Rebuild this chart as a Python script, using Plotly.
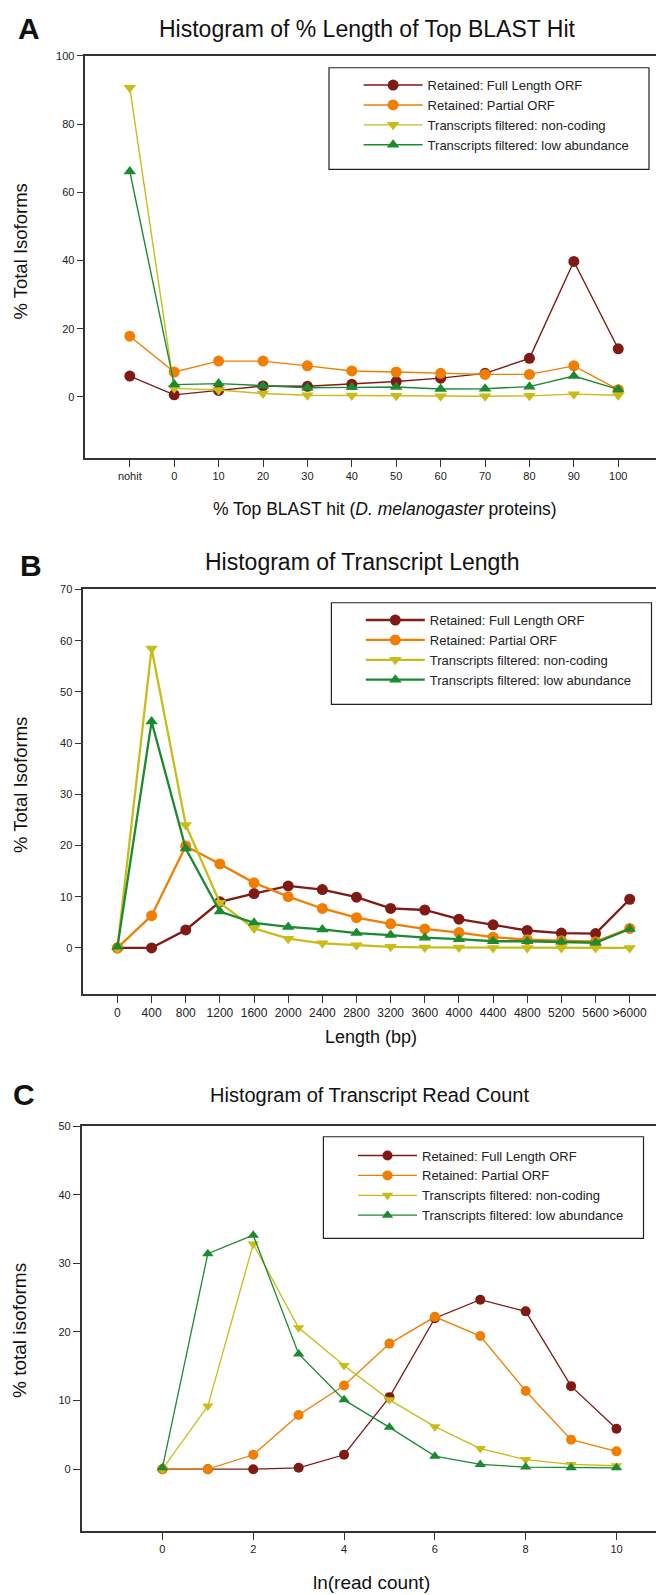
import plotly.graph_objects as go

W, H = 656, 1595

# ---------------- data ----------------
series_names = [
    "Retained: Full Length ORF",
    "Retained: Partial ORF",
    "Transcripts filtered: non-coding",
    "Transcripts filtered: low abundance",
]
series_colors = ["#7f1a14", "#f07e00", "#c8bc17", "#1b8a30"]
series_symbols = ["circle", "circle", "triangle-down", "triangle-up"]

# Panel A: % length of top BLAST hit
blast_categories = ["nohit", "0", "10", "20", "30", "40", "50", "60", "70", "80", "90", "100"]
blast_full = [6.1, 0.6, 1.9, 3.2, 3.1, 3.7, 4.5, 5.5, 6.9, 11.3, 39.7, 14.1]
blast_partial = [17.8, 7.3, 10.5, 10.5, 9.1, 7.6, 7.3, 6.9, 6.6, 6.6, 9.1, 2.1]
blast_noncoding = [90.6, 2.5, 2.0, 1.0, 0.5, 0.4, 0.3, 0.2, 0.2, 0.3, 0.8, 0.5]
blast_lowabund = [66.1, 3.6, 3.9, 3.3, 2.7, 2.8, 2.9, 2.3, 2.4, 3.0, 6.1, 2.2]
blast_yticks = [0, 20, 40, 60, 80, 100]

# Panel B: transcript length
length_categories = ["0", "400", "800", "1200", "1600", "2000", "2400", "2800", "3200",
                     "3600", "4000", "4400", "4800", "5200", "5600", ">6000"]
length_full = [0.0, 0.0, 3.5, 9.0, 10.6, 12.1, 11.4, 9.9, 7.7, 7.4, 5.6, 4.5, 3.4, 2.9, 2.8, 9.5]
length_partial = [0.0, 6.3, 19.9, 16.4, 12.7, 10.0, 7.7, 5.9, 4.7, 3.7, 3.0, 2.1, 1.6, 1.4, 1.2, 3.8]
length_noncoding = [0.0, 58.5, 24.0, 8.8, 3.8, 1.8, 0.9, 0.5, 0.2, 0.1, 0.1, 0.0, 0.0, 0.0, 0.0, 0.0]
length_lowabund = [0.2, 44.2, 19.4, 7.1, 4.9, 4.1, 3.6, 2.9, 2.5, 2.0, 1.7, 1.3, 1.3, 1.2, 1.0, 3.7]
length_yticks = [0, 10, 20, 30, 40, 50, 60, 70]

# Panel C: ln(read count)
readcount_x = [0, 1, 2, 3, 4, 5, 6, 7, 8, 9, 10]
readcount_full = [0.0, 0.0, 0.0, 0.2, 2.1, 10.5, 22.0, 24.7, 23.0, 12.1, 5.9]
readcount_partial = [0.0, 0.0, 2.1, 7.9, 12.2, 18.3, 22.2, 19.4, 11.4, 4.3, 2.6]
readcount_noncoding = [0.0, 9.2, 32.8, 20.6, 15.1, 10.1, 6.2, 3.0, 1.4, 0.7, 0.5]
readcount_lowabund = [0.2, 31.4, 34.1, 16.8, 10.1, 6.1, 1.9, 0.7, 0.3, 0.2, 0.2]
readcount_xticks = [0, 2, 4, 6, 8, 10]
readcount_yticks = [0, 10, 20, 30, 40, 50]

# ---------------- helpers ----------------
def fx(px):
    return px / W


def fy(py):
    return 1 - py / H


FONT = "Liberation Sans, Arial, Helvetica, sans-serif"
AXCOL = "#333333"
TXT = "#222222"

fig = go.Figure()

panels = [
    dict(xa="x", ya="y", leg="legend", x=blast_categories,
         ys=[blast_full, blast_partial, blast_noncoding, blast_lowabund], lw=1.4, ms=11),
    dict(xa="x2", ya="y2", leg="legend2", x=length_categories,
         ys=[length_full, length_partial, length_noncoding, length_lowabund], lw=2.3, ms=11),
    dict(xa="x3", ya="y3", leg="legend3", x=readcount_x,
         ys=[readcount_full, readcount_partial, readcount_noncoding, readcount_lowabund], lw=1.3, ms=10),
]

for p in panels:
    for name, col, sym, yv in zip(series_names, series_colors, series_symbols, p["ys"]):
        fig.add_trace(go.Scatter(
            x=p["x"], y=yv, name=name, mode="lines+markers",
            line=dict(color=col, width=p["lw"]),
            marker=dict(symbol=sym, size=p["ms"], color=col, line=dict(width=0)),
            xaxis=p["xa"], yaxis=p["ya"], legend=p["leg"],
        ))


def xaxis_common(domain, rng, tickfont):
    return dict(domain=domain, range=rng, showline=True, linecolor=AXCOL, linewidth=1.5,
                mirror=True, ticks="outside", ticklen=7, tickwidth=1.2, tickcolor=AXCOL,
                showgrid=False, zeroline=False,
                tickfont=dict(family=FONT, size=tickfont, color=TXT))


def yaxis_common(domain, rng, tickvals, tickfont):
    return dict(domain=domain, range=rng, showline=True, linecolor=AXCOL, linewidth=1.5,
                ticks="outside", ticklen=7, tickwidth=1.2, tickcolor=AXCOL,
                tickvals=tickvals, showgrid=False, zeroline=False,
                tickfont=dict(family=FONT, size=tickfont, color=TXT))


xa1 = xaxis_common([fx(85.4), 1.0], [-1, 11.85], 11)
xa1.update(type="category", categoryorder="array", categoryarray=blast_categories, anchor="y")
ya1 = yaxis_common([fy(454), fy(50)], [-18, 100], blast_yticks, 11)
ya1.update(anchor="x")

xa2 = xaxis_common([fx(83.3), 1.0], [-1, 15.77], 12)
xa2.update(type="category", categoryorder="array", categoryarray=length_categories, anchor="y2")
ya2 = yaxis_common([fy(991.7), fy(585.7)], [-9, 70], length_yticks, 11)
ya2.update(anchor="x2")

xa3 = xaxis_common([fx(81.6), 1.0], [-1.78, 10.87], 11)
xa3.update(tickvals=readcount_xticks, anchor="y3")
ya3 = yaxis_common([fy(1530.7), fy(1124.3)], [-9, 50], readcount_yticks, 11)
ya3.update(anchor="x3")


def legend_cfg(marker_px, center_py):
    return dict(x=fx(marker_px - 20), xanchor="left", y=fy(center_py), yanchor="middle",
                bgcolor="rgba(0,0,0,0)", borderwidth=0, itemwidth=59,
                font=dict(family=FONT, size=13, color=TXT), tracegroupgap=0)


annotations = []


def ann(text, px, py, size, bold=False, angle=0):
    annotations.append(dict(
        text=("<b>%s</b>" % text) if bold else text, x=fx(px), y=fy(py),
        xref="paper", yref="paper", xanchor="center", yanchor="middle",
        showarrow=False, textangle=angle,
        font=dict(family=FONT, size=size, color="#111111")))


# panel letters
ann("A", 29, 23, 30, bold=True)
ann("B", 31, 562, 30, bold=True)
ann("C", 24, 1093, 30, bold=True)
# titles
ann("Histogram of % Length of Top BLAST Hit", 367, 23, 23)
ann("Histogram of Transcript Length", 362, 558, 23)
ann("Histogram of Transcript Read Count", 369.5, 1093, 20)
# x-axis titles
ann("% Top BLAST hit (<i>D. melanogaster</i> proteins)", 385, 505, 17.5)
ann("Length (bp)", 371, 1035, 18)
ann("ln(read count)", 371, 1582, 19)
# y-axis titles
ann("% Total Isoforms", 20.5, 247, 18.5, angle=-90)
ann("% Total Isoforms", 20, 782, 18.5, angle=-90)
ann("% total isoforms", 20, 1330, 19, angle=-90)

shapes = []
for (x0, y0, x1, y1) in [(329, 62, 649, 164), (331.4, 599, 651.5, 701), (323.4, 1135, 643.5, 1237)]:
    shapes.append(dict(type="rect", xref="paper", yref="paper",
                       x0=fx(x0), x1=fx(x1), y0=fy(y1), y1=fy(y0),
                       line=dict(color="#222222", width=1.2), fillcolor="rgba(0,0,0,0)"))

fig.update_layout(
    width=W, height=H, margin=dict(l=0, r=0, t=0, b=0),
    paper_bgcolor="white", plot_bgcolor="white",
    xaxis=xa1, yaxis=ya1, xaxis2=xa2, yaxis2=ya2, xaxis3=xa3, yaxis3=ya3,
    legend=legend_cfg(378.6, 109.5),
    legend2=legend_cfg(380.8, 646.5),
    legend3=legend_cfg(373, 1184),
    annotations=annotations, shapes=shapes,
    font=dict(family=FONT),
    showlegend=True,
)

fig.write_html("out.html")
